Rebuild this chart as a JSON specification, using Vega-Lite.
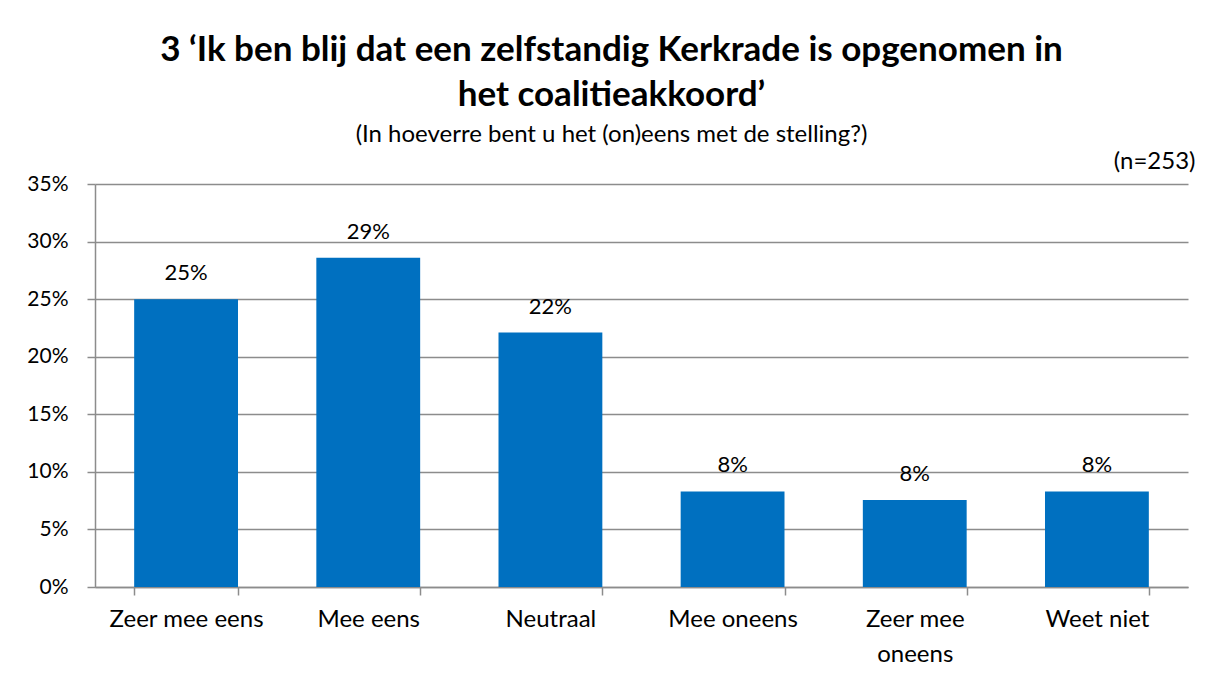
{
  "$schema": "https://vega.github.io/schema/vega-lite/v6.json",
  "autosize": {"type": "none"},
  "width": 1093,
  "height": 403,
  "padding": {"left": 95, "top": 184, "right": 24, "bottom": 92},
  "background": "white",
  "title": {
    "text": ["3 ‘Ik ben blij dat een zelfstandig Kerkrade is opgenomen in", "het coalitieakkoord’"],
    "subtitle": "(In hoeverre bent u het (on)eens met de stelling?)",
    "anchor": "middle",
    "frame": "group",
    "dx": -30,
    "offset": 2,
    "font": "Lato",
    "fontSize": 35,
    "fontWeight": "bold",
    "lineHeight": 45,
    "color": "black",
    "subtitleFont": "Lato",
    "subtitleFontSize": 24,
    "subtitleColor": "black",
    "subtitlePadding": 10
  },
  "data": {
    "values": [
      {"antwoord": "Zeer mee eens", "pct": 0.250},
      {"antwoord": "Mee eens", "pct": 0.286},
      {"antwoord": "Neutraal", "pct": 0.221},
      {"antwoord": "Mee oneens", "pct": 0.083},
      {"antwoord": "Zeer mee oneens", "pct": 0.0755},
      {"antwoord": "Weet niet", "pct": 0.083}
    ]
  },
  "encoding": {
    "x": {
      "field": "antwoord",
      "type": "nominal",
      "sort": null,
      "scale": {"paddingInner": 0.43, "paddingOuter": 0.215},
      "axis": {
        "title": null,
        "labelAngle": 0,
        "labelFont": "Lato",
        "labelFontSize": 24,
        "labelColor": "black",
        "labelPadding": 12,
        "labelLineHeight": 35,
        "labelExpr": "datum.label == 'Zeer mee oneens' ? ['Zeer mee', 'oneens'] : datum.label",
        "tickBand": "extent",
        "tickSize": 8,
        "tickColor": "#8c8c8c",
        "tickWidth": 1.5,
        "domainColor": "#8c8c8c",
        "domainWidth": 1.5,
        "grid": false
      }
    },
    "y": {
      "field": "pct",
      "type": "quantitative",
      "scale": {"domain": [0, 0.35], "nice": false},
      "axis": {
        "values": [0, 0.05, 0.1, 0.15, 0.2, 0.25, 0.3, 0.35],
        "format": ".0%",
        "labelFont": "Lato",
        "labelFontSize": 21,
        "labelColor": "black",
        "labelPadding": 19,
        "tickSize": 8,
        "tickColor": "#8c8c8c",
        "tickWidth": 1.5,
        "domainColor": "#8c8c8c",
        "domainWidth": 1.5,
        "grid": true,
        "gridColor": "#8c8c8c",
        "gridWidth": 1.5,
        "title": "(n=253)",
        "titleAngle": 0,
        "titleAlign": "right",
        "titleBaseline": "middle",
        "titleX": 1100,
        "titleY": -23,
        "titleFont": "Lato",
        "titleFontSize": 24,
        "titleFontWeight": "normal",
        "titleColor": "black"
      }
    }
  },
  "layer": [
    {"mark": {"type": "bar", "color": "#0070C0"}},
    {
      "mark": {"type": "text", "font": "Lato", "fontSize": 22, "color": "black", "baseline": "alphabetic", "dy": -19},
      "encoding": {"text": {"field": "pct", "type": "quantitative", "format": ".0%"}}
    }
  ],
  "config": {"view": {"stroke": null}}
}
